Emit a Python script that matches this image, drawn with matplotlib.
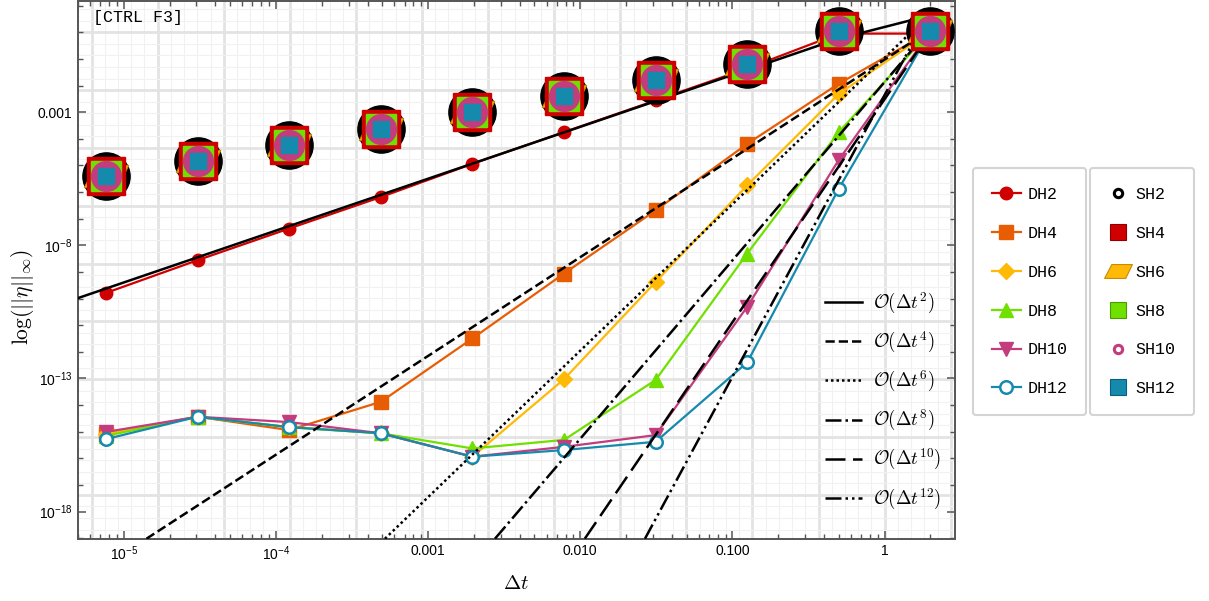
import numpy as np
import matplotlib
matplotlib.use('Agg')
import matplotlib.pyplot as plt
from matplotlib.lines import Line2D
from matplotlib.ticker import FixedLocator, NullFormatter, MultipleLocator, LogLocator

plt.rcParams['mathtext.fontset'] = 'cm'
plt.rcParams['font.family'] = ['Liberation Sans', 'DejaVu Sans']

# time steps (factor 4 apart)
dt = [7.62939453125e-06, 3.0517578125e-05, 1.220703125e-04, 4.8828125e-04,
      1.953125e-03, 7.8125e-03, 3.125e-02, 0.125, 0.5, 2.0]

# log10 of the max error
dh2 = [-9.79, -8.56, -7.37, -6.19, -4.94, -3.75, -2.56, -1.36, -0.05, -0.05]
dh4 = [-15.09, -14.44, -14.94, -13.88, -11.50, -9.06, -6.69, -4.19, -1.93, 0.03]
dh6 = [-15.09, -14.44, -14.83, -15.06, -15.94, -13.03, -9.38, -5.75, -2.31, 0.03]
dh8 = [-15.16, -14.44, -14.83, -15.06, -15.63, -15.31, -13.06, -8.31, -3.75, 0.03]
dh10 = [-15.01, -14.44, -14.64, -15.06, -15.94, -15.57, -15.13, -10.31, -4.79, 0.03]
dh12 = [-15.28, -14.44, -14.83, -15.06, -15.94, -15.69, -15.38, -12.40, -5.87, 0.03]
sh = [-5.41, -4.85, -4.22, -3.62, -3.00, -2.41, -1.81, -1.19, 0.06, 0.04]

# reference slope lines: (dt, log10 err) vertices
ref_dt = {2: [4.9e-06, 0.5, 2.0], 4: [1.41e-05, 2.0], 6: [5.2e-04, 2.0],
          8: [2.75e-03, 2.0], 10: [1.07e-02, 2.0], 12: [2.66e-02, 2.0]}
ref_err = {2: [-10.0, -0.24, 0.64], 4: [-19.02, 0.09], 6: [-19.02, 0.70],
           8: [-19.02, 0.15], 10: [-19.02, 0.01], 12: [-19.02, 0.83]}
ref_dash = {2: (None, None), 4: (3.7, 1.6), 6: (1.0, 1.2), 8: (6.4, 1.6, 1.0, 1.6),
            10: (8.0, 3.0), 12: (6.4, 1.6, 1.0, 1.6, 1.0, 1.6)}

dh_names = ['DH2', 'DH4', 'DH6', 'DH8', 'DH10', 'DH12']
dh_vals = [dh2, dh4, dh6, dh8, dh10, dh12]
colors = ['#d00000', '#e85d04', '#ffba08', '#70e000', '#c33c7d', '#168aad']
edge_dark = ['#000000', '#900000', '#c98a00', '#4a9a00', '#c33c7d', '#0b5f7e']
dh_markers = ['o', 's', 'D', '^', 'v', 'o']
dh_msize = [9, 10, 8, 10, 10, 9]
sh_names = ['SH2', 'SH4', 'SH6', 'SH8', 'SH10', 'SH12']

para = [(-0.5, -0.25), (0.26, -0.25), (0.5, 0.25), (-0.24, 0.25), (-0.5, -0.25)]

fig = plt.figure(figsize=(12.09, 6.01), dpi=100)
pos = [78 / 1209, 1 - 538.7 / 601, 877 / 1209, 538.7 / 601 - 0.001]

xlim = (5.0e-06, 2.9)
ylim = (10 ** -19.02, 10 ** 1.19)

# background grid (lines sit at powers of e)
bg = fig.add_axes(pos, zorder=0)
bg.set_xlim(np.log(xlim[0]), np.log(xlim[1]))
bg.set_ylim(np.log(ylim[0]), np.log(ylim[1]))
bg.xaxis.set_major_locator(MultipleLocator(1))
bg.xaxis.set_minor_locator(MultipleLocator(0.2))
bg.yaxis.set_major_locator(MultipleLocator(5))
bg.yaxis.set_minor_locator(MultipleLocator(1))
bg.grid(which='major', color='#e3e3e3', lw=2.0)
bg.grid(which='minor', color='#f1f1f1', lw=0.8)
bg.tick_params(which='both', length=0, labelbottom=False, labelleft=False)
for s in bg.spines.values():
    s.set_visible(False)

ax = fig.add_axes(pos, zorder=1)
ax.patch.set_alpha(0)
ax.set_xscale('log')
ax.set_yscale('log')

for name, vals, c, m, ms in zip(dh_names, dh_vals, colors, dh_markers, dh_msize):
    face = 'white' if name == 'DH12' else c
    ax.plot(dt, 10 ** np.array(vals), color=c, lw=1.6, marker=m, ms=ms,
            mfc=face, mec=c, mew=1.8 if name == 'DH12' else 1.0, label=name, zorder=3)

ref_lines = []
for p in [2, 4, 6, 8, 10, 12]:
    ln, = ax.plot(ref_dt[p], 10 ** np.array(ref_err[p]), color='black', lw=1.8,
                  label=r'$\mathcal{O}(\Delta t^{%d})$' % p, zorder=4)
    if ref_dash[p][0] is not None:
        ln.set_dashes(ref_dash[p])
    ref_lines.append(ln)

sh_y = 10 ** np.array(sh)
ax.plot(dt, sh_y, ls='none', marker='o', ms=34, mfc='black', mec='black', zorder=5)
ax.plot(dt, sh_y, ls='none', marker=para, ms=32, mfc=colors[2], mec=edge_dark[2], mew=0.8, zorder=5)
ax.plot(dt, sh_y, ls='none', marker='s', ms=27, mfc=colors[0], mec=colors[0], zorder=5)
ax.plot(dt, sh_y, ls='none', marker='s', ms=21, mfc=colors[3], mec=colors[3], zorder=5)
ax.plot(dt, sh_y, ls='none', marker='o', ms=21.5, mfc=colors[4], mec=colors[4], zorder=5)
ax.plot(dt, sh_y, ls='none', marker='s', ms=12, mfc=colors[5], mec=colors[5], zorder=5)

ax.set_xlim(*xlim)
ax.set_ylim(*ylim)

xt = [1e-5, 1e-4, 1e-3, 1e-2, 1e-1, 1]
ax.xaxis.set_major_locator(FixedLocator(xt))
ax.set_xticklabels([r'$\mathregular{10^{-5}}$', r'$\mathregular{10^{-4}}$', '0.001', '0.010', '0.100', '1'])
ax.xaxis.set_minor_locator(LogLocator(base=10, subs=np.arange(2, 10), numticks=50))
ax.xaxis.set_minor_formatter(NullFormatter())
yt = [1e-18, 1e-13, 1e-8, 1e-3]
ax.yaxis.set_major_locator(FixedLocator(yt))
ax.set_yticklabels([r'$\mathregular{10^{-18}}$', r'$\mathregular{10^{-13}}$', r'$\mathregular{10^{-8}}$', '0.001'])
ax.yaxis.set_minor_locator(FixedLocator([10.0 ** k for k in range(-19, 2)]))
ax.yaxis.set_minor_formatter(NullFormatter())
ax.tick_params(which='both', direction='in', top=True, right=True, color='#555555',
               labelsize=10, pad=4)
ax.tick_params(which='major', length=6, width=1.1)
ax.tick_params(which='minor', length=3.5, width=1.0)
for s in ax.spines.values():
    s.set_color('#555555')
    s.set_linewidth(1.4)

ax.set_xlabel(r'$\Delta t$', fontsize=15, labelpad=8)
ax.set_ylabel(r'$\log(||\eta||_\infty)$', fontsize=15.5)
ax.yaxis.set_label_coords(-0.048, 0.45)
ax.text(0.017, 0.982, '[CTRL F3]', transform=ax.transAxes, ha='left', va='top',
        family='Liberation Mono', fontsize=12)

fig.legend(handles=ref_lines, loc='upper left', bbox_to_anchor=(817 / 1209, 1 - 283 / 601),
           frameon=False, fontsize=13.5, handlelength=2.0, handletextpad=0.6,
           labelspacing=0.75, borderaxespad=0)

dh_handles = ax.get_lines()[:6]
leg1 = fig.legend(handles=dh_handles, loc='upper left', bbox_to_anchor=(973 / 1209, 1 - 168 / 601),
                  prop={'family': 'Liberation Mono', 'size': 12}, handlelength=1.7,
                  handletextpad=0.4, labelspacing=1.43, borderpad=1.15,
                  borderaxespad=0, fancybox=True, edgecolor='#d4d4d4', framealpha=1)
leg1.get_frame().set_linewidth(1.5)

sh_handles = [
    Line2D([], [], ls='none', marker='o', ms=6, mfc='white', mec='black', mew=2.2, label='SH2'),
    Line2D([], [], ls='none', marker='s', ms=11, mfc=colors[0], mec=edge_dark[1], mew=0.8, label='SH4'),
    Line2D([], [], ls='none', marker=para, ms=20, mfc=colors[2], mec=edge_dark[2], mew=0.8, label='SH6'),
    Line2D([], [], ls='none', marker='s', ms=11, mfc=colors[3], mec=edge_dark[3], mew=0.8, label='SH8'),
    Line2D([], [], ls='none', marker='o', ms=6, mfc='white', mec=colors[4], mew=2.2, label='SH10'),
    Line2D([], [], ls='none', marker='s', ms=11, mfc=colors[5], mec=edge_dark[5], mew=0.8, label='SH12'),
]
leg2 = fig.legend(handles=sh_handles, loc='upper left', bbox_to_anchor=(1090 / 1209, 1 - 168 / 601),
                  prop={'family': 'Liberation Mono', 'size': 12}, handlelength=1.1,
                  handletextpad=0.45, labelspacing=1.43, borderpad=1.15,
                  borderaxespad=0, fancybox=True, edgecolor='#d4d4d4', framealpha=1)
leg2.get_frame().set_linewidth(1.5)

fig.savefig('out.png', dpi=100)
